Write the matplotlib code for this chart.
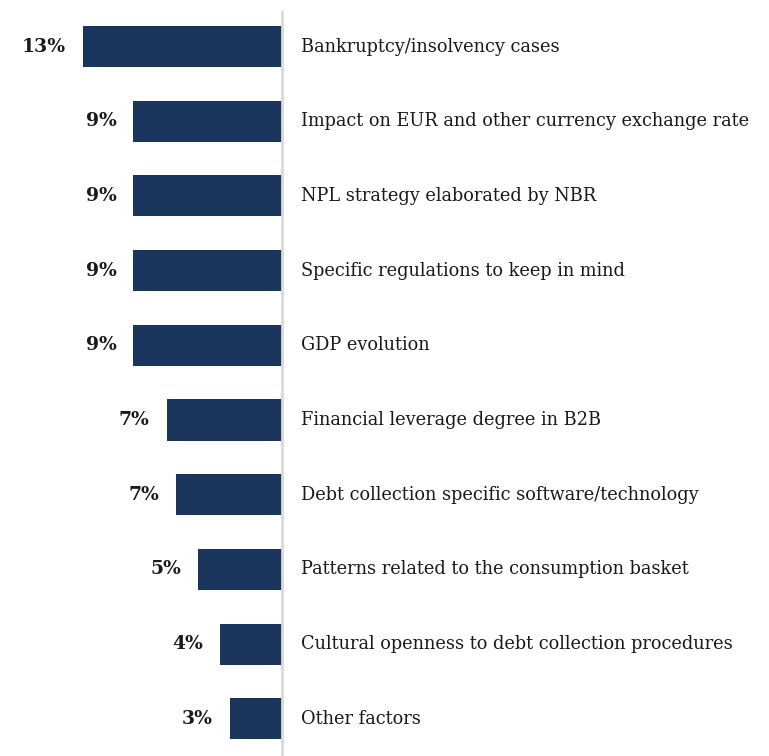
import matplotlib
matplotlib.use("Agg")
import matplotlib.pyplot as plt

categories = [
    "Bankruptcy/insolvency cases",
    "Impact on EUR and other currency exchange rate",
    "NPL strategy elaborated by NBR",
    "Specific regulations to keep in mind",
    "GDP evolution",
    "Financial leverage degree in B2B",
    "Debt collection specific software/technology",
    "Patterns related to the consumption basket",
    "Cultural openness to debt collection procedures",
    "Other factors",
]
shares = [12.6, 9.4, 9.4, 9.4, 9.4, 7.3, 6.7, 5.3, 3.9, 3.3]

W, H = 769, 756
fig = plt.figure(figsize=(W / 100, H / 100), dpi=100)
ax = fig.add_axes([0, 0, 1, 1])

px_per_unit = 15.8
zero_px = 282
row_top = 46.5
row_step = 74.7

ax.set_xlim(-zero_px / px_per_unit, (W - zero_px) / px_per_unit)
ax.set_ylim((H - row_top) / row_step, -row_top / row_step)

ypos = list(range(len(categories)))
neg = [-v for v in shares]
ax.barh(ypos, neg, height=0.55, color="#1b365d", edgecolor="none")

# vertical baseline
top_y = (10 - row_top) / row_step
ax.plot([0, 0], [top_y, (H - row_top) / row_step], color="#d9d9d9", lw=2, solid_capstyle="butt", zorder=3)

gap = 17 / px_per_unit
text_off = 19 / px_per_unit
for y, v, name in zip(ypos, shares, categories):
    ax.text(-v - gap, y, f"{v:.0f}%", ha="right", va="center",
            fontsize=13.5, fontweight="bold", family="DejaVu Serif", color="#1a1a1a")
    ax.text(text_off, y, name, ha="left", va="center",
            fontsize=12.8, family="DejaVu Serif", color="#1a1a1a")

ax.axis("off")
fig.savefig("out.png", dpi=100)
